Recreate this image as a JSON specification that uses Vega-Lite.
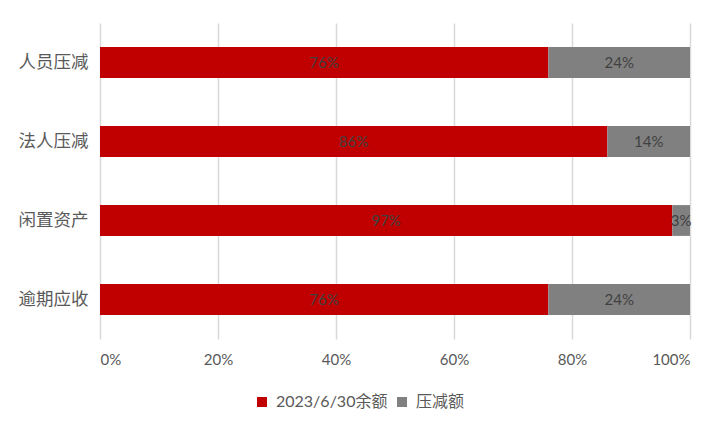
{
  "$schema": "https://vega.github.io/schema/vega-lite/v6.json",
  "width": 590,
  "height": 316,
  "autosize": {"type": "none"},
  "padding": {"left": 100, "top": 23, "right": 32, "bottom": 95},
  "background": "white",
  "config": {"view": {"stroke": null}},
  "data": {
    "values": [
      {"item": "人员压减", "series": "2023/6/30余额", "idx": 0, "share": 0.76},
      {"item": "人员压减", "series": "压减额", "idx": 1, "share": 0.24},
      {"item": "法人压减", "series": "2023/6/30余额", "idx": 0, "share": 0.86},
      {"item": "法人压减", "series": "压减额", "idx": 1, "share": 0.14},
      {"item": "闲置资产", "series": "2023/6/30余额", "idx": 0, "share": 0.97},
      {"item": "闲置资产", "series": "压减额", "idx": 1, "share": 0.03},
      {"item": "逾期应收", "series": "2023/6/30余额", "idx": 0, "share": 0.76},
      {"item": "逾期应收", "series": "压减额", "idx": 1, "share": 0.24}
    ]
  },
  "transform": [
    {"stack": "share", "groupby": ["item"], "sort": [{"field": "idx"}], "as": ["s0", "s1"]},
    {"calculate": "(datum.s0 + datum.s1) / 2", "as": "smid"}
  ],
  "encoding": {
    "y": {
      "field": "item",
      "type": "nominal",
      "sort": ["人员压减", "法人压减", "闲置资产", "逾期应收"],
      "scale": {"paddingInner": 0.61, "paddingOuter": 0.305},
      "axis": {
        "title": null,
        "domain": false,
        "ticks": false,
        "labelPadding": 12,
        "labelFont": "Noto Sans CJK SC",
        "labelFontSize": 17.5,
        "labelColor": "#595959"
      }
    }
  },
  "layer": [
    {
      "mark": {"type": "bar"},
      "encoding": {
        "x": {
          "field": "s0",
          "type": "quantitative",
          "scale": {"domain": [0, 1], "nice": false},
          "axis": {
            "title": null,
            "values": [0, 0.2, 0.4, 0.6, 0.8, 1],
            "format": ".0%",
            "domain": false,
            "ticks": false,
            "grid": true,
            "gridColor": "#d9d9d9",
            "gridWidth": 1.5,
            "labelPadding": 13,
            "labelFont": "Lato",
            "labelFontSize": 15,
            "labelColor": "#595959"
          }
        },
        "x2": {"field": "s1"},
        "color": {
          "field": "series",
          "type": "nominal",
          "sort": ["2023/6/30余额", "压减额"],
          "scale": {"domain": ["2023/6/30余额", "压减额"], "range": ["#C00000", "#808080"]},
          "legend": {
            "title": null,
            "orient": "none",
            "legendX": 154,
            "legendY": 371,
            "direction": "horizontal",
            "symbolType": "square",
            "symbolSize": 100,
            "symbolStrokeWidth": 0,
            "labelFont": "Lato, Noto Sans CJK SC",
            "labelFontSize": 16,
            "labelColor": "#595959",
            "columnPadding": 6,
            "labelOffset": 6
          }
        }
      }
    },
    {
      "mark": {"type": "text", "font": "Lato", "fontSize": 15, "color": "#404040"},
      "encoding": {
        "x": {"field": "smid", "type": "quantitative"},
        "text": {"field": "share", "type": "quantitative", "format": ".0%"},
        "detail": {"field": "series"}
      }
    }
  ]
}
